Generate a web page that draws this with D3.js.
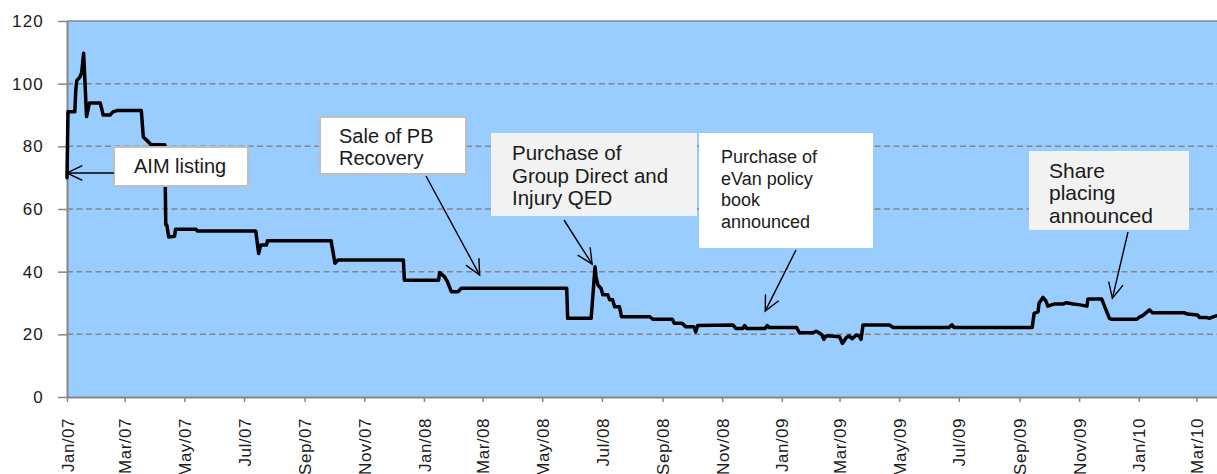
<!DOCTYPE html>
<html>
<head>
<meta charset="utf-8">
<script src="https://cdn.jsdelivr.net/npm/d3@7"></script>
<style>
  html, body { margin: 0; padding: 0; background: #fff; }
  svg { display: block; }
  text { font-family: "Liberation Sans", Arial, Helvetica, sans-serif; fill: #1a1a1a; }
</style>
</head>
<body>
<svg id="chart" width="1217" height="474"></svg>
<script>
// ---- data ----
const priceSeries = [
  ["2007-01-01",70],["2007-01-02",91],["2007-01-09",91],["2007-01-10",98],["2007-01-11",101],
  ["2007-01-14",102],["2007-01-16",103.5],["2007-01-18",109.7],["2007-01-21",89.5],["2007-01-24",93.8],
  ["2007-02-04",93.8],["2007-02-07",90],["2007-02-14",90],["2007-02-17",91],["2007-02-21",91.4],
  ["2007-03-18",91.4],["2007-03-20",83],["2007-03-25",81.5],["2007-03-28",80.5],["2007-04-11",80.5],
  ["2007-04-12",55],["2007-04-13",55],["2007-04-15",51.1],["2007-04-21",51.3],["2007-04-22",53.5],
  ["2007-05-13",53.5],["2007-05-14",53],["2007-07-13",53],["2007-07-16",45.8],["2007-07-18",48.5],
  ["2007-07-24",48.5],["2007-07-25",49.9],["2007-09-28",49.9],["2007-10-02",42.7],["2007-10-05",43.7],
  ["2007-12-11",43.7],["2007-12-12",37.3],["2008-01-16",37.3],["2008-01-17",39.7],["2008-01-22",38.4],
  ["2008-01-25",36.8],["2008-01-29",33.6],["2008-02-05",33.6],["2008-02-08",34.7],["2008-05-26",34.7],
  ["2008-05-27",25.1],["2008-06-20",25.1],["2008-06-24",41.6],["2008-06-25",38.4],["2008-06-27",35.7],
  ["2008-06-30",34.7],["2008-07-02",32.6],["2008-07-07",32.6],["2008-07-09",31],["2008-07-12",31],
  ["2008-07-14",28.8],["2008-07-19",28.8],["2008-07-21",25.6],["2008-08-19",25.6],["2008-08-22",24.8],
  ["2008-09-11",24.8],["2008-09-13",23.5],["2008-09-21",23.5],["2008-09-25",22.4],["2008-10-03",22.4],
  ["2008-10-05",20.8],["2008-10-07",22.8],["2008-11-12",23],["2008-11-15",21.9],["2008-11-22",21.9],
  ["2008-11-24",22.8],["2008-11-26",21.9],["2008-12-15",21.9],["2008-12-17",22.8],["2008-12-19",22.2],
  ["2009-01-16",22.2],["2009-01-19",20.5],["2009-02-02",20.5],["2009-02-05",21],["2009-02-08",20.5],
  ["2009-02-11",19.8],["2009-02-13",18.4],["2009-02-15",19.5],["2009-02-20",19.5],["2009-03-01",19.2],
  ["2009-03-04",17.1],["2009-03-08",19],["2009-03-11",19.5],["2009-03-14",18.6],["2009-03-18",19.8],
  ["2009-03-21",19.5],["2009-03-23",18.4],["2009-03-25",23],["2009-04-21",23],["2009-04-25",22.2],
  ["2009-06-21",22.2],["2009-06-24",23],["2009-06-26",22.2],["2009-09-14",22.2],["2009-09-16",26.7],
  ["2009-09-20",27.2],["2009-09-21",29.9],["2009-09-25",31.8],["2009-09-28",30.7],["2009-09-30",29],
  ["2009-10-07",29.7],["2009-10-16",29.7],["2009-10-19",30.1],["2009-10-26",29.7],["2009-11-02",29.4],
  ["2009-11-09",29],["2009-11-10",31.3],["2009-11-24",31.3],["2009-12-02",25.1],["2009-12-04",24.8],
  ["2009-12-30",24.8],["2010-01-02",25.6],["2010-01-05",26],["2010-01-12",27.8],["2010-01-15",26.9],
  ["2010-02-16",26.9],["2010-02-20",26.5],["2010-03-02",26.2],["2010-03-04",25.4],["2010-03-11",25.4],
  ["2010-03-14",25.1],["2010-03-21",25.9]
];
const yTicks = [0, 20, 40, 60, 80, 100, 120];
const dateDomain = ["2007-01-01", "2010-03-22"];
const xTickFormat = "%b/%y";

// annotation texts and the data points their arrows point at
const annotationLines = [
  ["AIM listing"],
  ["Sale of PB", "Recovery"],
  ["Purchase of", "Group Direct and", "Injury QED"],
  ["Purchase of", "eVan policy", "book", "announced"],
  ["Share", "placing", "announced"]
];
const annotationDates  = ["2007-01-01", "2008-02-27", "2008-06-21", "2008-12-15", "2009-12-05"];
const annotationValues = [71.5, 38.9, 42.4, 27.4, 31.5];

// ---- layout (pixels) ----
const plot = { left: 67, right: 1217, top: 21, bottom: 397 };
const boxLayout = [
  { x: 114, y: 147, w: 134, h: 39, fill: "#ffffff", stroke: "#bfbfbf", tx: 134, ty: 173, lh: 22, fs: 20, from: [114, 173] },
  { x: 320, y: 117, w: 146, h: 57, fill: "#ffffff", stroke: "#bfbfbf", tx: 339, ty: 143, lh: 22, fs: 20, from: [426, 176] },
  { x: 491, y: 133, w: 206, h: 83, fill: "#f2f2f2", stroke: "none", tx: 512, ty: 160, lh: 22.5, fs: 20.5, from: [564, 220] },
  { x: 699, y: 133, w: 174, h: 115, fill: "#ffffff", stroke: "none", tx: 721, ty: 163, lh: 21.7, fs: 18, from: [796, 250] },
  { x: 1029, y: 151, w: 160, h: 79, fill: "#f2f2f2", stroke: "none", tx: 1049, ty: 178, lh: 22.4, fs: 21, from: [1128, 232] }
];

const parse = d3.timeParse("%Y-%m-%d");
const data = priceSeries.map(([d, v]) => ({ date: parse(d), value: v }));

const svg = d3.select("#chart");

const x = d3.scaleTime()
  .domain(dateDomain.map(parse))
  .range([plot.left, plot.right]);
const y = d3.scaleLinear()
  .domain([0, 120])
  .range([plot.bottom, plot.top]);

// plot background
svg.append("rect")
  .attr("x", plot.left).attr("y", plot.top)
  .attr("width", plot.right - plot.left).attr("height", plot.bottom - plot.top)
  .attr("fill", "#99ccff");

// gridlines
svg.append("g").selectAll("line")
  .data(yTicks.filter(t => t > 0))
  .join("line")
  .attr("x1", plot.left).attr("x2", plot.right)
  .attr("y1", d => y(d)).attr("y2", d => y(d))
  .attr("stroke", "#868686")
  .attr("stroke-width", 1.5)
  .attr("stroke-dasharray", d => d === 120 ? null : "6,3.5");

// y axis
const yAxis = svg.append("g")
  .attr("transform", `translate(${plot.left},0)`)
  .call(d3.axisLeft(y).tickValues(yTicks).tickSize(9).tickPadding(14).tickSizeOuter(0));
yAxis.select(".domain").attr("stroke", "#868686").attr("stroke-width", 2);
yAxis.selectAll(".tick line").attr("stroke", "#868686").attr("stroke-width", 1.5);
yAxis.selectAll(".tick text")
  .attr("font-size", 17)
  .attr("letter-spacing", "1.2px")
  .attr("font-family", "Liberation Sans, Arial, sans-serif")
  .attr("fill", "#1a1a1a");

// x axis
const xAxis = svg.append("g")
  .attr("transform", `translate(0,${plot.bottom})`)
  .call(d3.axisBottom(x)
    .ticks(d3.timeMonth.every(2))
    .tickFormat(d3.timeFormat(xTickFormat))
    .tickSize(5)
    .tickSizeOuter(0));
xAxis.select(".domain").attr("stroke", "#868686").attr("stroke-width", 2);
xAxis.selectAll(".tick line").attr("stroke", "#868686").attr("stroke-width", 1.5);
xAxis.selectAll(".tick text")
  .attr("font-size", 17)
  .attr("letter-spacing", "0.5px")
  .attr("font-family", "Liberation Sans, Arial, sans-serif")
  .attr("fill", "#1a1a1a")
  .attr("text-anchor", "end")
  .attr("transform", "translate(0,21) rotate(-90)")
  .attr("x", 0)
  .attr("y", 0)
  .attr("dy", "0.36em");

// price line
svg.append("path")
  .datum(data)
  .attr("fill", "none")
  .attr("stroke", "#000")
  .attr("stroke-width", 3.5)
  .attr("stroke-linejoin", "round")
  .attr("stroke-linecap", "round")
  .attr("d", d3.line().x(d => x(d.date)).y(d => y(d.value)));

// annotations
const ann = svg.append("g");
boxLayout.forEach((b, i) => {
  const g = ann.append("g");
  g.append("rect")
    .attr("x", b.x).attr("y", b.y).attr("width", b.w).attr("height", b.h)
    .attr("fill", b.fill)
    .attr("stroke", b.stroke)
    .attr("stroke-width", b.stroke === "none" ? 0 : 2);
  const t = g.append("text")
    .attr("x", b.tx).attr("y", b.ty)
    .attr("font-size", b.fs);
  annotationLines[i].forEach((line, j) => {
    t.append("tspan").attr("x", b.tx).attr("y", b.ty + j * b.lh).text(line);
  });

  // arrow
  const tx = x(parse(annotationDates[i]));
  const ty = y(annotationValues[i]);
  const [fx, fy] = b.from;
  g.append("line")
    .attr("x1", fx).attr("y1", fy).attr("x2", tx).attr("y2", ty)
    .attr("stroke", "#000").attr("stroke-width", 1.4);
  const ang = Math.atan2(ty - fy, tx - fx);
  const L = 17, spread = 0.45;
  const p1 = [tx - L * Math.cos(ang - spread), ty - L * Math.sin(ang - spread)];
  const p2 = [tx - L * Math.cos(ang + spread), ty - L * Math.sin(ang + spread)];
  g.append("path")
    .attr("d", `M${p1[0]},${p1[1]}L${tx},${ty}L${p2[0]},${p2[1]}`)
    .attr("fill", "none").attr("stroke", "#000").attr("stroke-width", 1.4);
});
</script>
</body>
</html>
